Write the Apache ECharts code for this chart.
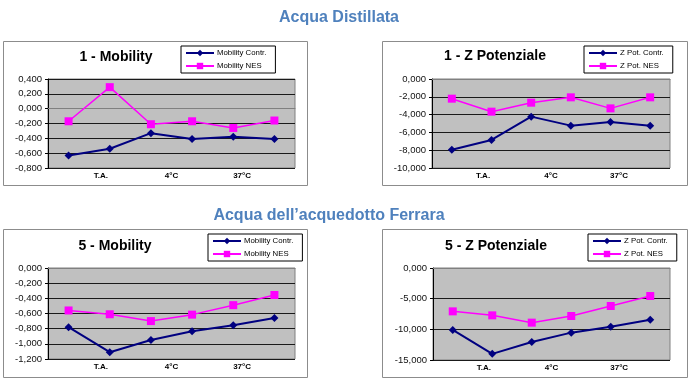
<!DOCTYPE html>
<html>
<head>
<meta charset="utf-8">
<script src="https://cdn.jsdelivr.net/npm/echarts@6/dist/echarts.min.js"></script>
<style>
html,body{margin:0;padding:0;background:#fff;}
#c{width:690px;height:378px;}
</style>
</head>
<body>
<div id="c"></div>
<script>
// ---- data ----
const categories = ['1', '2', '3', '4', '5', '6'];
const tickLabels = ['', 'T.A.', '', '4°C', '', '37°C', ''];

const mob1Contr = [-0.63, -0.54, -0.33, -0.41, -0.38, -0.41];
const mob1Nes   = [-0.17, 0.29, -0.21, -0.17, -0.26, -0.16];
const zp1Contr  = [-7.94, -6.85, -4.23, -5.24, -4.83, -5.24];
const zp1Nes    = [-2.21, -3.67, -2.66, -2.06, -3.30, -2.06];
const mob5Contr = [-0.78, -1.11, -0.95, -0.835, -0.755, -0.66];
const mob5Nes   = [-0.56, -0.61, -0.70, -0.615, -0.49, -0.356];
const zp5Contr  = [-10.1, -14.0, -12.07, -10.54, -9.57, -8.42];
const zp5Nes    = [-7.07, -7.72, -8.91, -7.83, -6.20, -4.57];

const mainTitles = ['Acqua Distillata', 'Acqua dell\u2019acquedotto Ferrara'];
const panelTitles = ['1 - Mobility', '1 - Z Potenziale', '5 - Mobility', '5 - Z Potenziale'];
const legendMob = ['Mobility Contr.', 'Mobility NES'];
const legendZp = ['Z Pot. Contr.', 'Z Pot. NES'];
const yRanges = [[-0.8, 0.4, 0.2], [-10, 0, 2], [-1.2, 0, 0.2], [-15, 0, 5]];

// ---- layout ----
const grids = [
  {left: 48, top: 79, width: 247, height: 89},
  {left: 432, top: 79, width: 238, height: 89},
  {left: 48, top: 268, width: 247, height: 91},
  {left: 433, top: 268, width: 237, height: 92}
];
const frames = [
  [3.5, 41.5, 304, 144],
  [382.5, 41.5, 305, 144],
  [3.5, 229.5, 304, 148],
  [382.5, 229.5, 305, 148]
];
const titlePos = [[116, 50], [495, 49], [115, 239], [496, 239]];
const legendPos = [[181, 46], [584, 46], [208, 234], [588, 234]];
const seriesData = [[mob1Contr, mob1Nes], [zp1Contr, zp1Nes], [mob5Contr, mob5Nes], [zp5Contr, zp5Nes]];
const legendNames = [legendMob, legendZp, legendMob, legendZp];

const FONT = 'Liberation Sans, Arial, sans-serif';
const fmt = v => v.toFixed(3).replace('.', ',');

const option = {
  animation: false,
  backgroundColor: '#fff',
  textStyle: {fontFamily: FONT},
  title: [
    {text: mainTitles[0], left: 334, top: 5, textAlign: 'center',
     textStyle: {fontSize: 16, fontWeight: 'bold', color: '#4f81bd', fontFamily: FONT}},
    {text: mainTitles[1], left: 324, top: 203, textAlign: 'center',
     textStyle: {fontSize: 16, fontWeight: 'bold', color: '#4f81bd', fontFamily: FONT}}
  ].concat(panelTitles.map((t, i) => ({
    text: t, left: titlePos[i][0], top: titlePos[i][1], textAlign: 'center', padding: 0,
    textStyle: {fontSize: 14, fontWeight: 'bold', color: '#000', fontFamily: FONT}
  }))),
  graphic: frames.map(f => ({
    type: 'rect', silent: true, z: -10,
    shape: {x: f[0], y: f[1], width: f[2], height: f[3]},
    style: {fill: '#fff', stroke: '#8c8c8c', lineWidth: 1}
  })),
  legend: legendNames.map((names, i) => ({
    data: names, orient: 'vertical',
    left: legendPos[i][0], top: legendPos[i][1],
    itemWidth: 28, itemHeight: 8, itemGap: 5,
    padding: [3, 9, 3, 4],
    borderColor: '#000', borderWidth: 1, backgroundColor: '#fff',
    textStyle: {fontSize: 7.8, color: '#000', fontFamily: FONT, padding: [0, 0, 0, -2]}
  })),
  grid: grids.map(g => Object.assign({show: true, backgroundColor: '#c0c0c0', borderColor: '#808080', borderWidth: 1}, g)),
  xAxis: [],
  yAxis: [],
  series: []
};

grids.forEach((g, i) => {
  option.xAxis.push({
    type: 'category', gridIndex: i, data: categories, position: 'bottom',
    boundaryGap: true,
    axisLine: {show: true, lineStyle: {color: '#808080'}},
    axisTick: {show: false}, axisLabel: {show: false}, splitLine: {show: false}
  });
  option.xAxis.push({
    type: 'category', gridIndex: i, data: tickLabels, position: 'bottom',
    boundaryGap: true,
    axisLine: {show: false}, axisTick: {show: false}, splitLine: {show: false},
    axisLabel: {show: true, interval: 0, margin: 4, fontSize: 8, fontWeight: 'bold', color: '#000', fontFamily: FONT}
  });
  const r = yRanges[i];
  option.yAxis.push({
    type: 'value', gridIndex: i, min: r[0], max: r[1], interval: r[2],
    axisLine: {show: true, lineStyle: {color: '#000'}},
    axisTick: {show: true, length: 3, lineStyle: {color: '#000'}},
    axisLabel: {formatter: fmt, fontSize: 9.5, color: '#111', margin: 6, fontFamily: FONT},
    splitLine: {show: true, lineStyle: {color: '#1a1a1a', width: 1}}
  });
  const names = legendNames[i];
  option.series.push({
    type: 'line', name: names[0], xAxisIndex: 2 * i, yAxisIndex: i,
    data: seriesData[i][0],
    symbol: 'diamond', symbolSize: 8,
    lineStyle: {color: '#000080', width: 2},
    itemStyle: {color: '#000080'}
  });
  option.series.push({
    type: 'line', name: names[1], xAxisIndex: 2 * i, yAxisIndex: i,
    data: seriesData[i][1],
    symbol: 'rect', symbolSize: 8,
    lineStyle: {color: '#ff00ff', width: 1.5},
    itemStyle: {color: '#ff00ff'}
  });
});

const chart = echarts.init(document.getElementById('c'), null, {renderer: 'canvas'});
chart.setOption(option);
</script>
</body>
</html>
